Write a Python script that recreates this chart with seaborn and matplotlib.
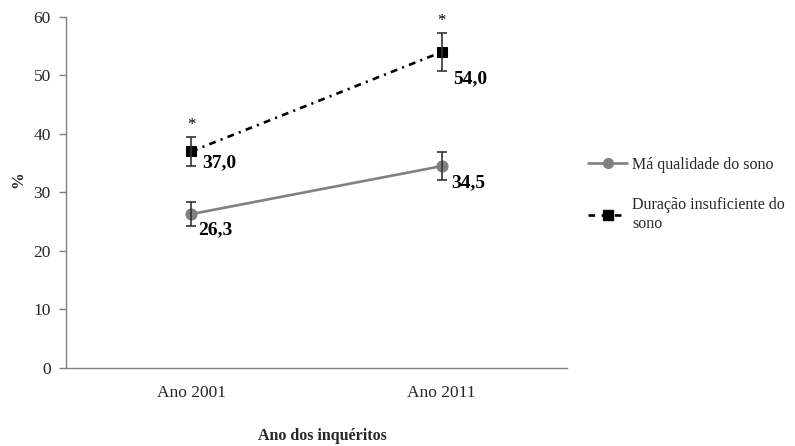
import matplotlib
matplotlib.use("Agg")
import matplotlib.pyplot as plt
import seaborn as sns
import pandas as pd
from matplotlib.lines import Line2D

# Survey years and sleep indicators (%)
anos = ["Ano 2001", "Ano 2011"]
ma_qualidade = [26.3, 34.5]
ma_qualidade_err = [2.0, 2.4]
duracao_insuf = [37.0, 54.0]
duracao_insuf_err = [2.5, 3.3]
series_nomes = ["Má qualidade do sono", "Duração insuficiente do\nsono"]
significativo = [True, True]  # marked with * above the insufficient-duration series
y_ticks = [0, 10, 20, 30, 40, 50, 60]

sns.set_theme(style="white")
plt.rcParams["font.family"] = ["Liberation Serif", "DejaVu Serif"]

fig = plt.figure(figsize=(7.95, 4.46), dpi=100)
ax = fig.add_axes([0.083, 0.175, 0.630, 0.787])

pos = list(range(len(anos)))
df = pd.DataFrame({
    "pos": pos * 2,
    "valor": ma_qualidade + duracao_insuf,
    "serie": [series_nomes[0]] * 2 + [series_nomes[1]] * 2,
})

cinza = "#808080"
preto = "#000000"
dash_dot = [2.6, 2.0, 0.8, 2.0]

sns.lineplot(data=df[df.serie == series_nomes[0]], x="pos", y="valor", ax=ax,
             color=cinza, lw=1.9, marker="o", markersize=8, markeredgecolor=cinza,
             legend=False)
sns.lineplot(data=df[df.serie == series_nomes[1]], x="pos", y="valor", ax=ax,
             color=preto, lw=1.9, marker="s", markersize=7.5, markeredgecolor=preto,
             legend=False)
ax.lines[-1].set_dashes(dash_dot)

ax.errorbar(pos, ma_qualidade, yerr=ma_qualidade_err, fmt="none",
            ecolor="#333333", elinewidth=1.2, capsize=3.5, capthick=1.2)
ax.errorbar(pos, duracao_insuf, yerr=duracao_insuf_err, fmt="none",
            ecolor="#333333", elinewidth=1.2, capsize=3.5, capthick=1.2)

def rotulo(v):
    return f"{v:.1f}".replace(".", ",")

# label offsets (points) to sit each value below-right of its marker
desl_qual = [(5, -11.5), (7, -12)]
desl_dur = [(8, -8), (8, -19)]

for x, v, d in zip(pos, ma_qualidade, desl_qual):
    ax.annotate(rotulo(v), (x, v), xytext=d, textcoords="offset points",
                ha="left", va="center", fontsize=14, fontweight="bold", color="black")
for x, v, e, s, d in zip(pos, duracao_insuf, duracao_insuf_err, significativo, desl_dur):
    ax.annotate(rotulo(v), (x, v), xytext=d, textcoords="offset points",
                ha="left", va="center", fontsize=14, fontweight="bold", color="black")
    if s:
        ax.annotate("*", (x, v + e), xytext=(0, 3), textcoords="offset points",
                    ha="center", va="bottom", fontsize=12, color="black")

ax.set_xlim(-0.5, len(anos) - 0.5)
ax.set_ylim(0, 60)
ax.set_yticks(y_ticks)
ax.set_xticks(pos)
ax.set_xticklabels(anos)
ax.set_xticks([-0.5, 0.5, 1.5], minor=True)
ax.tick_params(axis="x", which="major", length=0, pad=12, labelsize=12.5)
ax.tick_params(axis="x", which="minor", length=5, color=cinza, width=1)
ax.tick_params(axis="y", length=5, color=cinza, width=1, labelsize=12.5, pad=6,
               direction="out", left=True)

for s in ["top", "right"]:
    ax.spines[s].set_visible(False)
for s in ["left", "bottom"]:
    ax.spines[s].set_color(cinza)
    ax.spines[s].set_linewidth(1)

ax.set_xlabel("Ano dos inquéritos", fontweight="bold", fontsize=11.5)
ax.xaxis.set_label_coords(0.511, -0.172)
ax.set_ylabel("%", fontweight="bold", fontsize=12)
ax.yaxis.set_label_coords(-0.08, 0.536)
ax.grid(False)

handles = [
    Line2D([0], [0], color=cinza, lw=1.9, marker="o", markersize=7),
    Line2D([0], [0], color=preto, lw=1.9, marker="s", markersize=7, dashes=[2.5, 2.5]),
]
fig.legend(handles, series_nomes, loc="upper left", bbox_to_anchor=(0.722, 0.681),
           frameon=False, fontsize=11.5, handlelength=2.4, labelspacing=1.55,
           handletextpad=0.35)

fig.savefig("out.png", dpi=100)
